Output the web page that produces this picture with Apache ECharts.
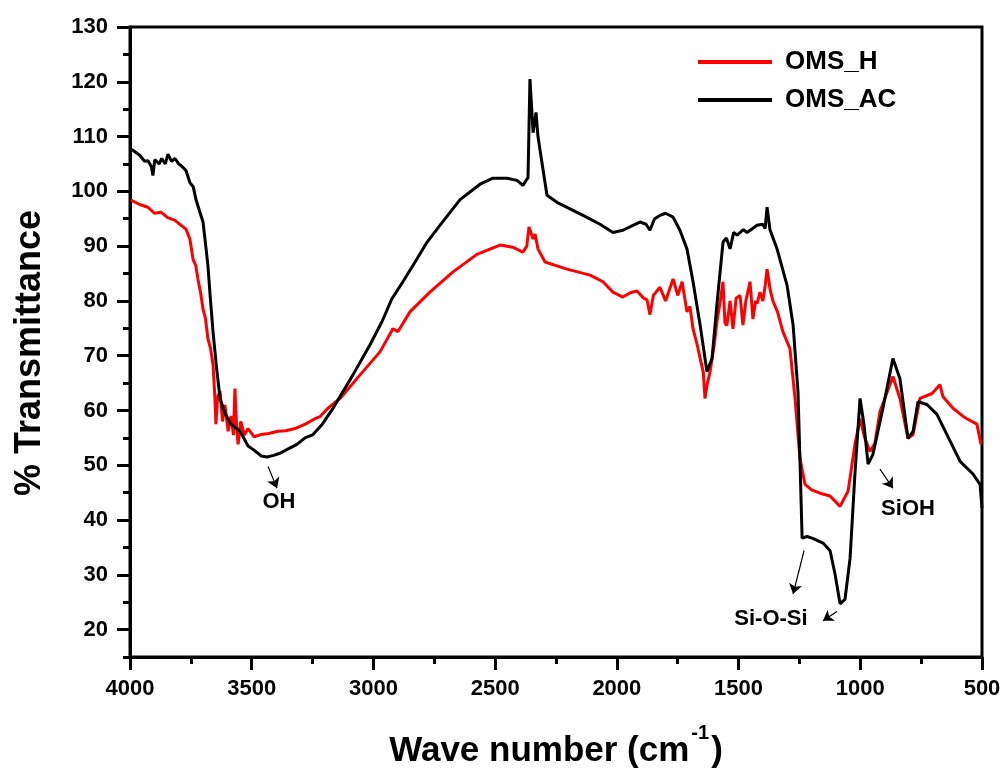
<!DOCTYPE html>
<html>
<head>
<meta charset="UTF-8">
<title>FTIR OMS</title>
<script src="https://cdn.jsdelivr.net/npm/echarts@6/dist/echarts.min.js"></script>
<style>
body { margin: 0; padding: 0; background: #fff; }
#main { width: 1005px; height: 776px; }
</style>
</head>
<body>
<div id="main"></div>
<script>
// OMS_H (red)
var wnH = [3996,3960,3926,3900,3873,3845,3815,3790,3770,3754,3741,3730,3721,3710,3700,3690,3680,3670,3659,3652,
  3647,3640,3630,3620,3610,3597,3585,3575,3569,3562,3556,3545,3530,3515,3490,3462,3430,3392,3360,3322,
  3280,3240,3219,3187,3137,3055,2973,2920,2899,2850,2768,2673,2575,2480,2427,2386,2370,2361,2344,2336,
  2324,2295,2205,2110,2057,2016,1975,1945,1917,1890,1876,1864,1850,1823,1800,1769,1750,1732,1712,1700,
  1687,1670,1658,1645,1638,1628,1617,1600,1589,1575,1564,1556,1548,1535,1523,1510,1494,1482,1470,1453,
  1441,1430,1424,1412,1400,1390,1383,1370,1359,1340,1318,1289,1268,1248,1227,1200,1165,1124,1083,1050,
  1022,1001,981,960,940,919,866,837,804,783,755,705,673,660,619,580,562,521,504];
var tH = [98.4,97.6,97.1,96.0,96.2,95.2,94.7,93.8,93.1,91.3,87.6,86.5,84,81.5,78.5,76.8,73.1,71.5,68.4,63,
  57.5,62.5,63.5,58,61,56.2,59,55.5,64,57,53.8,58,55.5,56.7,55.2,55.6,55.8,56.2,56.3,56.7,
  57.5,58.5,58.9,60.4,62.2,66.5,70.7,74.9,74.4,78,81.6,85.3,88.5,90.2,89.8,88.9,90,93.5,91.3,92.2,
  89.5,87.1,85.8,84.7,83.5,81.6,80.7,81.5,81.8,80.5,80.2,77.5,81,82.5,80,84,81,83.5,78,79,
  74.9,72,69.5,67,62.2,65,67.1,72,76.2,80,83.5,76,75.5,80,74.9,80.5,81,75.6,80,83.5,
  76.7,80,79.5,81.6,80,83,85.8,82,80,78,74.4,71.3,62.2,51.3,46.5,45.5,44.9,44.4,42.5,45.3,
  53.8,58.5,54.9,52.5,54,59.8,66.2,62.2,54.9,55.6,62.2,63.1,64.7,62.5,60.4,59,58.5,57.5,53.8];

// OMS_AC (black)
var wnAC = [4000,3988,3960,3940,3926,3912,3906,3898,3880,3870,3855,3844,3830,3815,3800,3790,3770,3754,3740,3729,
  3715,3700,3690,3680,3670,3659,3645,3630,3610,3585,3548,3515,3495,3460,3437,3410,3384,3350,3314,3281,
  3248,3210,3166,3084,3014,2965,2924,2879,2837,2780,2727,2644,2562,2509,2451,2410,2386,2365,2357,2344,
  2332,2324,2308,2287,2246,2139,2069,2016,1975,1934,1905,1880,1864,1845,1823,1800,1769,1741,1712,1687,
  1658,1630,1609,1589,1564,1550,1535,1520,1506,1480,1465,1424,1400,1391,1383,1371,1342,1301,1276,1256,
  1248,1239,1219,1198,1153,1124,1104,1083,1063,1042,1022,1001,985,968,948,907,866,837,804,783,
  763,726,685,644,590,537,508,500];
var tAC = [107.8,107.5,106.6,105.5,105.6,104.5,102.9,105.8,105,106,105,106.8,105.5,106,105,104.7,103.8,101.6,100.8,98.5,
  96.5,94.4,90.5,86.5,80.5,74.4,68,62.2,59.5,57.5,56.2,53.5,52.9,51.7,51.5,51.8,52.2,53,53.8,55,
  55.6,57.5,60.4,66.5,72,76.2,80.4,83.5,86.5,90.7,93.8,98.5,101.3,102.4,102.4,102,101.1,102.5,120.5,110.7,
  114.4,110,105.3,99.3,98,95.6,94,92.5,92.9,93.8,94.4,94,92.9,95,95.6,96,95.3,92.9,89.5,83.5,
  75.6,67.1,69.5,79.3,90.7,91.5,89.5,92.5,92,93,92.5,93.8,94,93.2,97.1,93,89.5,82.9,75.6,63.5,
  51.3,36.7,37,36.7,35.8,34.4,30.2,24.7,25.5,33,48.4,62.2,57.5,50.2,52,60.4,69.5,65.8,54.9,56.2,
  61.6,61.1,59.3,55.6,50.7,48.4,46.5,42.2];

var yLabels = [20,30,40,50,60,70,80,90,100,110,120,130];

// annotation positions in data units
var notes = [
  { name: 'OH', at: [3388, 43.3] },
  { name: 'Si-O-Si', at: [1367, 22] },
  { name: 'SiOH', at: [804, 42] }
];
var arrows = [
  [[3433, 49.8], [3396, 45.8]],
  [[1231, 34.4], [1276, 26.5]],
  [[1096, 23.3], [1153, 21.6]],
  [[919, 49.3], [866, 45.8]]
];

function pairs(xs, ys) {
  return xs.map(function (x, i) { return [x, ys[i]]; });
}

var chart = echarts.init(document.getElementById('main'));
var font = 'Arial, "Liberation Sans", sans-serif';

chart.setOption({
  animation: false,
  backgroundColor: '#fff',
  grid: { left: 130, right: 23, top: 27, bottom: 119, show: true, borderColor: '#000', borderWidth: 3 },
  legend: {
    orient: 'vertical',
    left: 693,
    top: 44,
    itemWidth: 74,
    itemHeight: 4,
    itemGap: 12,
    icon: 'rect',
    textStyle: { fontFamily: font, fontWeight: 'bold', fontSize: 26, color: '#000', padding: [0, 0, 0, 8] },
    data: ['OMS_H', 'OMS_AC']
  },
  xAxis: {
    type: 'value',
    min: 500,
    max: 4000,
    interval: 500,
    inverse: true,
    name: '{a|Wave number (cm}{s|-1}{a|)}',
    nameLocation: 'middle',
    nameGap: 66,
    nameTextStyle: {
      rich: {
        a: { fontFamily: font, fontWeight: 'bold', fontSize: 35, color: '#000', lineHeight: 46, verticalAlign: 'bottom' },
        s: { fontFamily: font, fontWeight: 'bold', fontSize: 20, color: '#000', lineHeight: 46, verticalAlign: 'top', padding: [0, 2, 0, 2] }
      }
    },
    axisLine: { lineStyle: { color: '#000', width: 3 } },
    axisTick: { length: 13, lineStyle: { width: 3, color: '#000' } },
    minorTick: { show: true, splitNumber: 2, length: 7, lineStyle: { width: 3, color: '#000' } },
    axisLabel: {
      margin: 21, fontFamily: font, fontWeight: 'bold', fontSize: 22, color: '#000',
      formatter: function (v) { return String(v); }
    },
    splitLine: { show: false }
  },
  yAxis: [{
    type: 'value',
    min: 15,
    max: 130,
    name: '% Transmittance',
    nameLocation: 'middle',
    nameGap: 82,
    nameTextStyle: { fontFamily: font, fontWeight: 'bold', fontSize: 36, color: '#000', padding: [0, 22, 0, 0] },
    axisLine: { show: true, lineStyle: { color: '#000', width: 3 } },
    axisTick: { show: true, length: 13, customValues: yLabels, lineStyle: { width: 3, color: '#000' } },
    axisLabel: { margin: 22, customValues: yLabels, fontFamily: font, fontWeight: 'bold', fontSize: 22, color: '#000' },
    splitLine: { show: false }
  }, {
    type: 'value',
    position: 'left',
    min: 15,
    max: 130,
    interval: 5,
    axisLine: { show: false },
    axisTick: { show: true, length: 7, lineStyle: { width: 3, color: '#000' } },
    axisLabel: { show: false },
    splitLine: { show: false }
  }],
  series: [{
    name: 'OMS_H',
    type: 'line',
    data: pairs(wnH, tH),
    showSymbol: false,
    color: '#ff0000',
    lineStyle: { width: 3, color: '#ff0000' }
  }, {
    name: 'OMS_AC',
    type: 'line',
    data: pairs(wnAC, tAC),
    showSymbol: false,
    color: '#000',
    lineStyle: { width: 3, color: '#000' },
    markLine: {
      silent: true,
      symbol: ['none', 'arrow'],
      symbolSize: 10,
      label: { show: false },
      lineStyle: { color: '#000', width: 1.2, type: 'solid' },
      data: arrows.map(function (a) { return [{ coord: a[0] }, { coord: a[1] }]; })
    },
    markPoint: {
      silent: true,
      symbol: 'rect',
      symbolSize: 1,
      itemStyle: { color: 'rgba(0,0,0,0)' },
      label: { show: true, position: 'inside', formatter: '{b}', fontFamily: font, fontWeight: 'bold', fontSize: 22, color: '#000' },
      data: notes.map(function (n) { return { name: n.name, coord: n.at }; })
    }
  }]
});
</script>
</body>
</html>
